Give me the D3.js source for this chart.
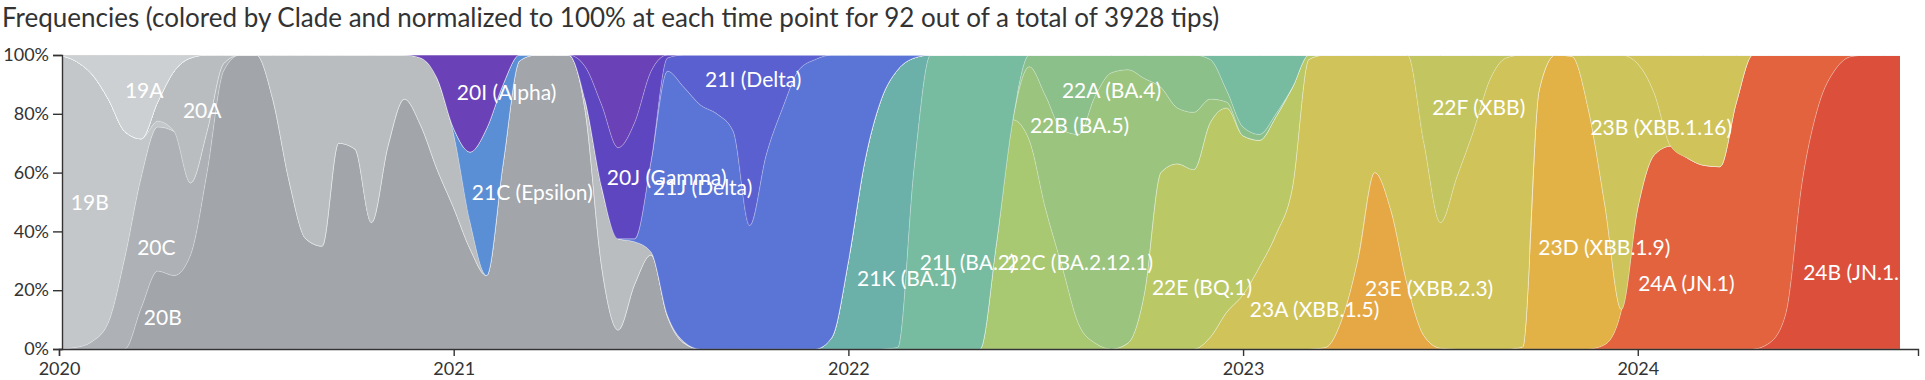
<!DOCTYPE html>
<html>
<head>
<meta charset="utf-8">
<script src="https://cdn.jsdelivr.net/npm/d3@7"></script>
<style>
  body { margin: 0; background: #fff; }
  svg text { font-family: Lato, "Open Sans", sans-serif; }
  .title { font-size: 26px; fill: #333; }
  .axis text { font-size: 18px; fill: #333; font-family: Lato, sans-serif; }
  .axis path, .axis line { stroke: #333; stroke-width: 1.4; }
  .label { font-size: 21px; fill: #fff; }
</style>
</head>
<body>
<svg width="1925" height="380"></svg>
<script>
// pivots: every half month from Jan 2020
const pivots = d3.range(113).map(function(i) { return 2020 + i / 24; });

// clades, bottom of the stack first
const clades = ["24B","24A","23D","23E","23B","23A","22F","22E","22C","22B","22A","21L","21K",
                "20B","20C","19B","20A","21C","21J","21I","20J","20I","19A"];
const cladeColors = ["#dc4f3b","#e3633f","#e3b247","#e5a845","#cdc55c","#cfc35a","#c3c660","#bac866",
                     "#a9c872","#9bc47e","#8cc08b","#77bba0","#6bb1a9",
                     "#a2a5aa","#aeb1b5","#c4c7ca","#babdc0","#5b8fd5","#5b75d6","#5a60d0","#5e46c1","#6a41b6","#cdd0d2"];
// index of the pivot where each clade's list starts
const firstPivot = [104, 94, 89, 77, 92, 70, 83, 65, 57, 59, 59, 51, 47, 5, 1, 0, 6, 24, 35, 37, 32, 22, 1];

// frequencies (%) per clade
const f24B = [2, 12, 57, 83, 95, 99.5, 100, 100, 100];
const f24A = [1.5, 13, 48, 66, 69, 65, 62.5, 62, 84, 100, 98, 88, 43, 17, 5, 0.5];
const f23D = [0.7, 88, 100, 99.5, 81.5, 47.5, 0.5];
const f23E = [0.5, 10, 31, 60, 47, 21.5, 4.5, 0.3];
const f23B = [0.5, 18.5, 51, 86.5, 49, 21];
const f23A = [4, 12.5, 18.5, 28, 39, 55, 98.5, 99.5, 90, 69, 40, 53, 78.5, 65.5, 42.7, 58.5, 74, 91.5, 99, 99.3,
              12, 0, 0, 0, 0, 0, 3, 13, 31, 35, 37.5, 38, 16];
const f22F = [30, 57, 41.5, 26, 8.5, 1];
const f22E = [2, 19, 60, 63, 61, 73, 69.5, 54, 43, 40, 34, 1.5];
const f22C = [36, 78, 71, 47.5, 28, 8.5, 2];
const f22B = [25, 38.5, 46.5, 64.5, 84, 94, 93, 73, 29, 19, 19.5, 8, 2];
const f22A = [4, 14, 25.5, 27, 14, 6, 5, 8, 11, 18, 19.5, 13.5, 4, 3, 2, 1];
const f21L = [0.5, 62, 100, 100, 100, 100, 64, 22, 0, 0, 0, 0, 0, 0, 0, 0, 0, 0, 0, 1.5, 12, 24.5, 27, 20, 11];
const f21K = [4, 30, 64, 85, 94.5, 37];
const f20B = [14, 26.5, 25, 32, 60, 94.5, 100, 100, 85, 57, 37.5, 35, 70, 68, 43, 69, 85, 76, 61, 48, 34, 25,
              63, 98, 100, 100, 100, 81, 28, 6.5, 22, 32, 11, 2];
const f20C = [0.5, 2.5, 9, 31, 44.5, 49, 49, 24.5, 14, 2.5];
const f19B = [100, 97.5, 91, 76, 43, 13, 2];
const f20A = [6.5, 20.5, 42.5, 26, 3, 0, 0, 15, 43, 62.5, 65, 30, 32, 57, 31, 15, 23, 31, 25, 9,
              0, 0, 0, 0, 0, 0, 3.5, 27, 31, 14.5, 1, 0.5, 0.5];
const f21C = [2, 24, 50, 27, 2];
const f21J = [1, 31, 83, 86.5, 83, 80, 74, 42, 66, 82, 95, 98.5, 96, 70, 36, 15, 5, 1];
const f21I = [4.5, 11, 17, 20, 26, 58, 34, 18, 5, 1.5];
const f20J = [11.5, 28, 31, 39.5, 30.5, 1];
const f20I = [1, 8, 25, 33, 25, 10, 0, 0, 0, 0, 4, 17, 31.5, 23, 5.5];
const f19A = [2, 6.5, 15, 26, 28.5, 16, 5.5, 1];

const freqs = [f24B, f24A, f23D, f23E, f23B, f23A, f22F, f22E, f22C, f22B, f22A, f21L, f21K,
               f20B, f20C, f19B, f20A, f21C, f21J, f21I, f20J, f20I, f19A];

// stream labels: text, date of label start, height (%) of label centre
const labelText = ["19B", "19A", "20C", "20B", "20A", "20I (Alpha)", "21C (Epsilon)", "20J (Gamma)", "21J (Delta)",
                   "21I (Delta)", "21K (BA.1)", "21L (BA.2)", "22C (BA.2.12.1)", "22B (BA.5)", "22A (BA.4)",
                   "22E (BQ.1)", "23A (XBB.1.5)", "23E (XBB.2.3)", "22F (XBB)", "23D (XBB.1.9)",
                   "23B (XBB.1.16)", "24A (JN.1)", "24B (JN.1.11)"];
const labelDate = [2020.030, 2020.167, 2020.198, 2020.215, 2020.314, 2021.008, 2021.046, 2021.388, 2021.505,
                   2021.637, 2022.022, 2022.181, 2022.402, 2022.460, 2022.541, 2022.769, 2023.017, 2023.309,
                   2023.479, 2023.748, 2023.880, 2024.001, 2024.419];
const labelPct = [49.7, 88.1, 34.4, 10.9, 81.3, 87.4, 53.1, 58.5, 55.1, 91.8, 24.1, 29.3, 29.3, 76.2, 88.1,
                  21.1, 13.6, 20.7, 82.0, 34.7, 75.5, 22.4, 25.9];

const yearTicks = [2020, 2021, 2022, 2023, 2024];
const pctTicks = [0, 20, 40, 60, 80, 100];

const svg = d3.select("svg");
const plotLeft = 62;

var x = d3.scaleLinear().domain([2020, 2024.71]).range([59, 1918]);
var y = d3.scaleLinear().domain([0, 100]).range([349, 55]);

// build the table the stack needs
var rows = pivots.map(function(p, i) {
    var row = { date: p };
    clades.forEach(function(c, j) {
        var v = freqs[j][i - firstPivot[j]];
        row[c] = v === undefined ? 0 : v;
    });
    return row;
});

var series = d3.stack().keys(clades).offset(d3.stackOffsetExpand)(rows);

svg.append("defs").append("clipPath").attr("id", "plotClip")
    .append("rect")
    .attr("x", plotLeft)
    .attr("y", y(100))
    .attr("width", x(pivots[pivots.length - 1]) - plotLeft - 1)
    .attr("height", y(0) - y(100));

var area = d3.area()
    .x(function(d) { return x(d.data.date); })
    .y0(function(d) { return y(d[0] * 100); })
    .y1(function(d) { return y(d[1] * 100); })
    .curve(d3.curveMonotoneX);

var plot = svg.append("g").attr("clip-path", "url(#plotClip)");

plot.selectAll("path.stream")
    .data(series)
    .enter()
    .append("path")
    .attr("class", "stream")
    .attr("d", area)
    .attr("fill", function(d, i) { return cladeColors[i]; })
    .attr("stroke", "#fff")
    .attr("stroke-opacity", 0.3)
    .attr("stroke-width", 0.7);

plot.selectAll("text.label")
    .data(labelText)
    .enter()
    .append("text")
    .attr("class", "label")
    .attr("x", function(d, i) { return x(labelDate[i]); })
    .attr("y", function(d, i) { return y(labelPct[i]); })
    .attr("dy", "0.36em")
    .text(function(d) { return d; });

// axes
svg.append("g").attr("class", "axis")
    .attr("transform", "translate(0," + y(0) + ")")
    .call(d3.axisBottom(x).tickValues(yearTicks).tickFormat(d3.format("d")).tickSize(7).tickPadding(6));

svg.append("g").attr("class", "axis")
    .attr("transform", "translate(" + plotLeft + ",0)")
    .call(d3.axisLeft(y).tickValues(pctTicks).tickFormat(function(d) { return d + "%"; }).tickSize(9).tickPadding(4));

svg.append("text")
    .attr("class", "title")
    .attr("x", 2)
    .attr("y", 27)
    .text("Frequencies (colored by Clade and normalized to 100% at each time point for 92 out of a total of 3928 tips)");
</script>
</body>
</html>
